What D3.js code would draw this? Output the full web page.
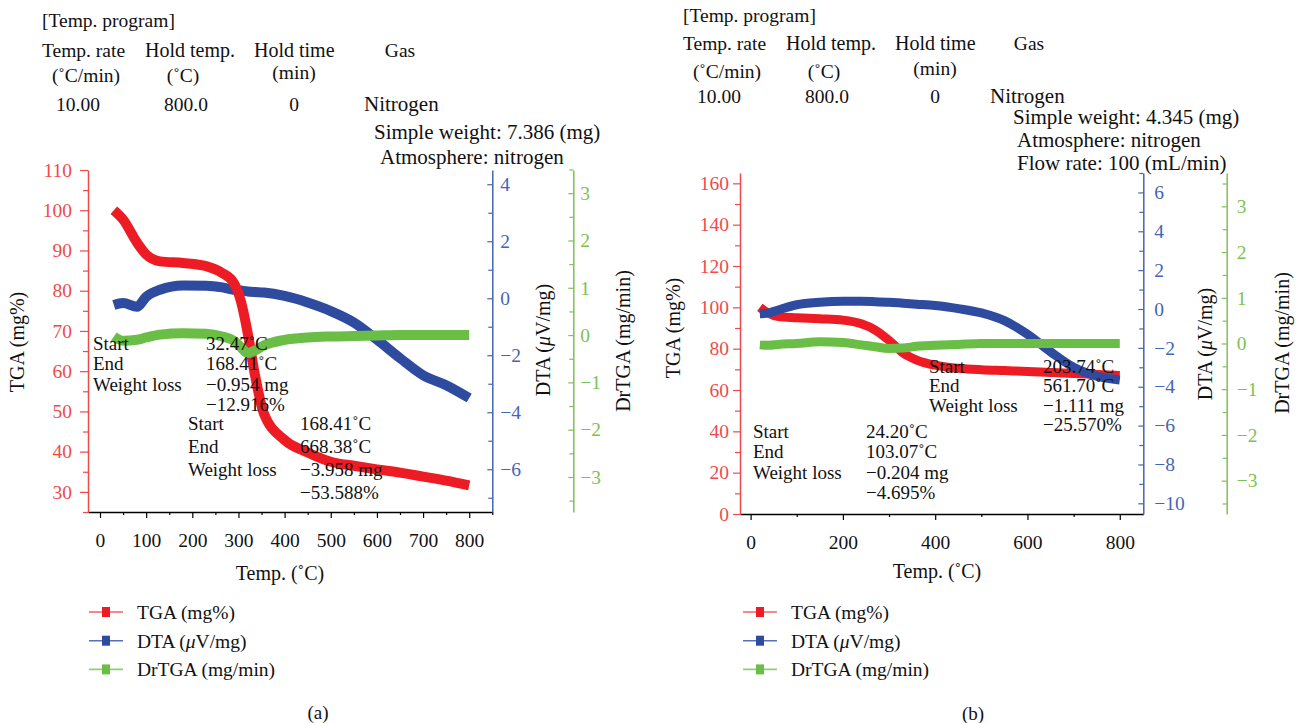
<!DOCTYPE html>
<html>
<head>
<meta charset="utf-8">
<script src="https://cdn.jsdelivr.net/npm/d3@7/dist/d3.min.js"></script>
<style>
  body { margin: 0; background: #fff; }
  svg text { font-family: "Liberation Serif", "DejaVu Serif", serif; }
</style>
</head>
<body>
<svg id="chart" width="1303" height="723"></svg>
<script>
// Panel (a) values
const tempA  = [30, 50, 80, 100, 130, 180, 230, 265, 290, 305, 320, 335, 355, 400, 450, 500, 550, 600, 650, 700, 750, 800];
const tgaA   = [100, 97.7, 92, 89, 87.3, 86.9, 86.1, 84.4, 81.9, 77.5, 69.5, 59.5, 49.5, 42.9, 39.8, 37.5, 36.5, 35.6, 34.8, 33.8, 32.8, 31.6];
const dtaA   = [-0.24, -0.17, -0.3, 0.05, 0.3, 0.45, 0.44, 0.38, 0.3, 0.27, 0.24, 0.22, 0.2, 0.08, -0.15, -0.45, -0.85, -1.45, -2.1, -2.7, -3.05, -3.5];
const drtgaA = [-0.03, -0.12, -0.1, -0.05, 0.01, 0.04, 0.03, -0.03, -0.12, -0.25, -0.38, -0.33, -0.22, -0.1, -0.05, -0.03, -0.02, -0.01, 0, 0, 0, 0];

// Panel (b) values
const tempB  = [20, 40, 60, 100, 150, 200, 240, 270, 300, 330, 360, 400, 450, 500, 550, 600, 650, 700, 750, 800];
const tgaB   = [100, 97, 95.5, 95, 94.5, 93.8, 92, 89, 84, 78, 74.5, 72, 70.5, 69.8, 69.4, 69, 68.5, 68, 67.5, 67];
const dtaB   = [-0.25, -0.2, -0.05, 0.22, 0.35, 0.4, 0.4, 0.38, 0.35, 0.3, 0.25, 0.18, 0.02, -0.2, -0.6, -1.3, -2.2, -3.0, -3.45, -3.65];
const drtgaB = [-0.03, -0.04, -0.02, 0, 0.04, 0.02, -0.03, -0.07, -0.11, -0.1, -0.06, -0.04, -0.02, 0, 0, 0, 0, 0, 0, 0];

// Tick values
const xTicksA = [0, 100, 200, 300, 400, 500, 600, 700, 800];
const tgaTicksA = [30, 40, 50, 60, 70, 80, 90, 100, 110];
const dtaTicksA = [-6, -4, -2, 0, 2, 4];
const xTicksB = [0, 200, 400, 600, 800];
const tgaTicksB = [0, 20, 40, 60, 80, 100, 120, 140, 160];
const dtaTicksB = [-10, -8, -6, -4, -2, 0, 2, 4, 6];
const drTicks = [-3, -2, -1, 0, 1, 2, 3];

// Legend entries
const seriesNames = ["TGA (mg%)", "DTA (\u03BCV/mg)", "DrTGA (mg/min)"];

// Colours
const red = "#ed1c24", blue = "#2e4b9f", green = "#6abd45";
const redAxis = "#ef4a4a", blueAxis = "#4565b3", greenAxis = "#7cc252";

let svg = d3.select("#chart");

function zip(t, v) {
    return t.map((d, i) => ({ t: d, v: v[i] }));
}

function minorTicks(major, step, lo, hi) {
    let out = [];
    for (let v = lo; v <= hi + 1e-9; v += step) {
        if (!major.some(m => Math.abs(m - v) < 1e-9)) out.push(+v.toFixed(3));
    }
    return out;
}

function styleAxis(g, color) {
    g.selectAll("path").attr("stroke", color).attr("stroke-width", 1.5);
    g.selectAll("line").attr("stroke", color).attr("stroke-width", 1.2);
    g.selectAll("text").attr("fill", color).attr("font-size", 19.5)
        .attr("font-family", "Liberation Serif");
}

function drawPanel(p) {
    let g = svg.append("g");

    let x = d3.scaleLinear().domain(p.xDomain).range([p.left, p.right]);
    let yTga = d3.scaleLinear().domain(p.tgaDomain).range([p.bottom, p.top]);
    let yDta = d3.scaleLinear().domain(p.dtaDomain).range([p.bottom, p.top]);
    let yDr = d3.scaleLinear().domain(p.drDomain).range([p.bottom, p.top]);

    // x axis
    let xa = g.append("g").attr("transform", `translate(0,${p.bottom})`)
        .call(d3.axisBottom(x).tickValues(p.xTicks).tickSize(6).tickSizeOuter(0).tickPadding(15).tickFormat(d3.format("d")));
    styleAxis(xa, "#000");
    xa.selectAll("text").attr("fill", "#111");
    let xm = g.append("g").attr("transform", `translate(0,${p.bottom})`)
        .call(d3.axisBottom(x).tickValues(p.xMinor).tickSize(3).tickFormat(""));
    xm.select("path").remove();
    styleAxis(xm, "#000");

    // TGA axis (left)
    let ya = g.append("g").attr("transform", `translate(${p.left},0)`)
        .call(d3.axisLeft(yTga).tickValues(p.tgaTicks).tickSize(p.leftTick).tickSizeOuter(0).tickPadding(p.leftPad));
    styleAxis(ya, redAxis);
    let ym = g.append("g").attr("transform", `translate(${p.left},0)`)
        .call(d3.axisLeft(yTga).tickValues(p.tgaMinor).tickSize(5).tickFormat(""));
    ym.select("path").remove();
    styleAxis(ym, redAxis);

    // DTA axis (right, ticks inside)
    let da = g.append("g").attr("transform", `translate(${p.right},0)`)
        .call(d3.axisRight(yDta).tickValues(p.dtaTicks).tickSize(-5).tickSizeOuter(0).tickPadding(p.bluePad));
    styleAxis(da, blueAxis);
    let dm = g.append("g").attr("transform", `translate(${p.right},0)`)
        .call(d3.axisRight(yDta).tickValues(p.dtaMinor).tickSize(-4).tickFormat(""));
    dm.select("path").remove();
    styleAxis(dm, blueAxis);

    // DrTGA axis (far right)
    let ra = g.append("g").attr("transform", `translate(${p.greenX},0)`)
        .call(d3.axisRight(yDr).tickValues(drTicks).tickSize(-5).tickSizeOuter(0).tickPadding(p.greenPad));
    styleAxis(ra, greenAxis);
    let rm = g.append("g").attr("transform", `translate(${p.greenX},0)`)
        .call(d3.axisRight(yDr).tickValues(minorTicks(drTicks, 0.5, -3.5, 3.5)).tickSize(-4).tickFormat(""));
    rm.select("path").remove();
    styleAxis(rm, greenAxis);

    // axis titles
    g.append("text").attr("transform", `translate(${p.tgaLabel[0]},${p.tgaLabel[1]}) rotate(-90)`)
        .attr("text-anchor", "middle").attr("dy", "0.35em").attr("font-size", 20).attr("fill", "#111")
        .text("TGA (mg%)");
    let dtaT = g.append("text").attr("transform", `translate(${p.dtaLabel[0]},${p.dtaLabel[1]}) rotate(-90)`)
        .attr("text-anchor", "middle").attr("dy", "0.35em").attr("font-size", 20).attr("fill", "#111");
    dtaT.append("tspan").text("DTA (");
    dtaT.append("tspan").attr("font-style", "italic").text("\u03BC");
    dtaT.append("tspan").text("V/mg)");
    g.append("text").attr("transform", `translate(${p.drLabel[0]},${p.drLabel[1]}) rotate(-90)`)
        .attr("text-anchor", "middle").attr("dy", "0.35em").attr("font-size", 20).attr("fill", "#111")
        .text("DrTGA (mg/min)");
    g.append("text").attr("x", p.xLabel[0]).attr("y", p.xLabel[1])
        .attr("text-anchor", "middle").attr("dy", "0.35em").attr("font-size", 20).attr("fill", "#111")
        .text("Temp. (\u02DAC)");

    // curves
    let line = (ys) => d3.line().x(d => x(d.t)).y(d => ys(d.v)).curve(d3.curveMonotoneX);
    let curves = {
        tga: { data: zip(p.temp, p.tga), scale: yTga, color: red },
        dta: { data: zip(p.temp, p.dta), scale: yDta, color: blue },
        dr:  { data: zip(p.temp, p.dr),  scale: yDr,  color: green }
    };
    p.order.forEach(k => {
        let c = curves[k];
        g.append("path").datum(c.data)
            .attr("d", line(c.scale))
            .attr("fill", "none")
            .attr("stroke", c.color)
            .attr("stroke-width", p.stroke)
            .attr("stroke-linejoin", "round");
    });

    // annotation blocks
    p.notes.forEach(n => {
        let labels = ["Start", "End", "Weight loss"];
        labels.forEach((l, i) => {
            g.append("text").attr("x", n.x).attr("y", n.y + i * n.gap).attr("dy", "0.35em")
                .attr("font-size", 19).attr("fill", "#111").text(l);
        });
        n.values.forEach((v, i) => {
            g.append("text").attr("x", n.vx).attr("y", n.y + i * n.gap).attr("dy", "0.35em")
                .attr("font-size", 19).attr("fill", "#111").text(v);
        });
    });

    // legend
    let colors = [red, blue, green];
    let lineColors = ["#f0625f", "#5470b8", "#8fcf74"];
    seriesNames.forEach((s, i) => {
        let ly = 612 + i * 28.7;
        let lg = g.append("g");
        lg.append("line").attr("x1", p.legX).attr("x2", p.legX + 34).attr("y1", ly).attr("y2", ly)
            .attr("stroke", lineColors[i]).attr("stroke-width", 1.6);
        lg.append("rect").attr("x", p.legX + 13).attr("y", ly - 5).attr("width", 8).attr("height", 10)
            .attr("fill", colors[i]);
        let t = lg.append("text").attr("x", p.legX + 48).attr("y", ly).attr("dy", "0.35em")
            .attr("font-size", 19.5).attr("fill", "#111");
        if (i === 1) {
            t.append("tspan").text("DTA (");
            t.append("tspan").attr("font-style", "italic").text("\u03BC");
            t.append("tspan").text("V/mg)");
        } else {
            t.text(s);
        }
    });

    g.append("text").attr("x", p.tag[0]).attr("y", p.tag[1]).attr("dy", "0.35em")
        .attr("text-anchor", "middle").attr("font-size", 19).attr("fill", "#111").text(p.tagText);

    // header
    let h = p.head;
    let put = (tx, xx, yy, anchor, fs) => g.append("text").attr("x", xx).attr("y", yy).attr("dy", "0.35em")
        .attr("text-anchor", anchor || "start").attr("font-size", fs || 19.5).attr("fill", "#111").text(tx);
    put("[Temp. program]", h.x0, h.rows[0]);
    put("Temp. rate", h.x0, h.rows[1]);
    put("Hold temp.", h.x0 + 103, h.rows[1], "start", 20);
    put("Hold time", h.x0 + 212, h.rows[1], "start", 20);
    put("Gas", h.gasX, h.rows[1], "middle");
    put("(\u02DAC/min)", h.x0 + 44, h.rows[2], "middle");
    put("(\u02DAC)", h.x0 + 141, h.rows[2], "middle");
    put("(min)", h.x0 + 252, h.rows[2] - 3, "middle");
    put("10.00", h.x0 + 36, h.rows[3], "middle");
    put("800.0", h.x0 + 144, h.rows[3], "middle");
    put("0", h.x0 + 252, h.rows[3], "middle");
    put("Nitrogen", h.nitroX, h.rows[3], "start", 21);
    h.extra.forEach(e => put(e.t, e.x, e.y, "start", 21));
}

drawPanel({
    left: 88, right: 492.3, top: 170, bottom: 512, greenX: 573.3, stroke: 10,
    xDomain: [-26, 850], tgaDomain: [25, 110], dtaDomain: [-7.5, 4.5], drDomain: [-3.74, 3.49],
    xTicks: xTicksA, xMinor: minorTicks(xTicksA, 50, 50, 850),
    tgaTicks: tgaTicksA, tgaMinor: minorTicks(tgaTicksA, 5, 25, 110),
    dtaTicks: dtaTicksA, dtaMinor: minorTicks(dtaTicksA, 1, -7, 4),
    leftTick: 8, leftPad: 8, bluePad: 8, greenPad: 7,
    tgaLabel: [17, 342], dtaLabel: [543, 340], drLabel: [623, 341], xLabel: [280, 573],
    temp: tempA, tga: tgaA, dta: dtaA, dr: drtgaA, order: ["dta", "tga", "dr"],
    notes: [
        { x: 93, vx: 206, y: 343, gap: 20.5, values: ["32.47\u02DAC", "168.41\u02DAC", "\u22120.954 mg", "\u221212.916%"] },
        { x: 188, vx: 300, y: 423, gap: 23, values: ["168.41\u02DAC", "668.38\u02DAC", "\u22123.958 mg", "\u221253.588%"] }
    ],
    legX: 89, tag: [318, 712], tagText: "(a)",
    head: { x0: 42, gasX: 400, nitroX: 364, rows: [20, 50, 75, 104], extra: [
        { t: "Simple weight: 7.386 (mg)", x: 374, y: 132 },
        { t: "Atmosphere: nitrogen", x: 380, y: 157 }
    ] }
});

drawPanel({
    left: 740, right: 1143.3, top: 173, bottom: 514, greenX: 1226.7, stroke: 9,
    xDomain: [-23, 851], tgaDomain: [0, 165], dtaDomain: [-10.55, 7], drDomain: [-3.73, 3.73],
    xTicks: xTicksB, xMinor: minorTicks(xTicksB, 100, 100, 800),
    tgaTicks: tgaTicksB, tgaMinor: minorTicks(tgaTicksB, 10, 10, 160),
    dtaTicks: dtaTicksB, dtaMinor: minorTicks(dtaTicksB, 1, -10, 7),
    leftTick: 7, leftPad: 4, bluePad: 11, greenPad: 10,
    tgaLabel: [673, 328], dtaLabel: [1205, 344], drLabel: [1282, 343], xLabel: [937, 571],
    temp: tempB, tga: tgaB, dta: dtaB, dr: drtgaB, order: ["tga", "dta", "dr"],
    notes: [
        { x: 753, vx: 866, y: 431, gap: 20.5, values: ["24.20\u02DAC", "103.07\u02DAC", "\u22120.204 mg", "\u22124.695%"] },
        { x: 929, vx: 1043, y: 366, gap: 19.5, values: ["203.74\u02DAC", "561.70\u02DAC", "\u22121.111 mg", "\u221225.570%"] }
    ],
    legX: 743, tag: [973, 713], tagText: "(b)",
    head: { x0: 683, gasX: 1029, nitroX: 990, rows: [15, 43, 71, 96], extra: [
        { t: "Simple weight: 4.345 (mg)", x: 1013, y: 117 },
        { t: "Atmosphere: nitrogen", x: 1017, y: 140 },
        { t: "Flow rate: 100 (mL/min)", x: 1017, y: 163 }
    ] }
});
</script>
</body>
</html>
